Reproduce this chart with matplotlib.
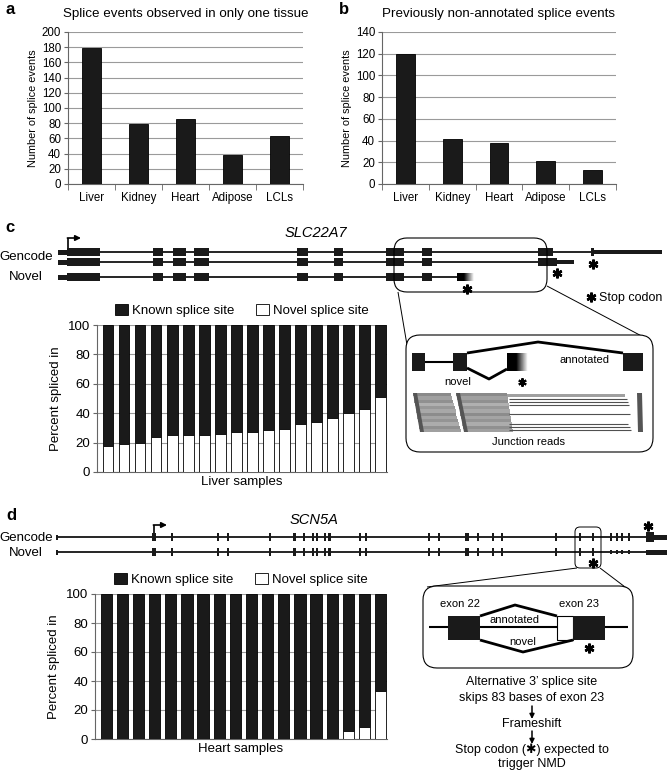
import numpy as np
import matplotlib
matplotlib.use("Agg")
import matplotlib.pyplot as plt
from matplotlib.patches import Rectangle, FancyBboxPatch, Polygon

plt.rcParams['font.family'] = ['Liberation Sans', 'DejaVu Sans']

# ---------------- data ----------------
tissues = ['Liver', 'Kidney', 'Heart', 'Adipose', 'LCLs']
tissue_specific = [179, 79, 86, 38, 63]
non_annotated = [120, 41, 38, 21, 13]
liver_novel = [17.5, 19, 20, 23.5, 25, 25.5, 25.5, 26, 27, 27.5, 28.5, 29, 32.5, 34, 37, 40, 43, 51]
heart_novel = [0, 0, 0, 0, 0, 0, 0, 0, 0, 0, 0, 0, 0, 0, 0, 5.5, 8, 33]

# gene structures (pixel positions along the diagram)
slc_exons = [(67, 100), (153, 163), (173, 186), (194, 209), (297, 308), (334, 343), (386, 404), (422, 432)]
scn_exons = [(152, 156), (171, 173), (217, 219), (227, 229), (269, 271), (293, 296), (303, 305), (312, 314),
             (316, 318), (324, 326), (328, 331), (359, 361), (365, 367), (428, 430), (438, 440), (465, 469),
             (477, 479), (492, 494), (501, 503), (555, 557), (579, 581), (592, 594)]
scn_small = [(610, 612), (616, 618), (621, 623), (628, 630)]

W, H = 668, 774
fig = plt.figure(figsize=(W / 100, H / 100), dpi=100)

DARK = '#1a1a1a'
GRID = '#9a9a9a'
SPINE = '#666666'


def add_ax(l, t, r, b):
    return fig.add_axes([l / W, 1 - b / H, (r - l) / W, (b - t) / H])


# ---------------- overlay for diagrams ----------------
ov = fig.add_axes([0, 0, 1, 1], zorder=0)
ov.set_facecolor('none')


def exon(x0, x1, yc, h, fc=DARK, ec='none', lw=0):
    ov.add_patch(Rectangle((x0, yc - h / 2), x1 - x0, h, fc=fc, ec=ec, lw=lw, zorder=3))


def line(xs, ys, lw=1.2, color='black', z=2):
    ov.plot(xs, ys, color=color, lw=lw, solid_capstyle='butt', zorder=z)


def star(x, y, s=7, lw=1.8):
    ov.plot([x], [y], marker=(6, 2, 0), ms=s, mew=lw, color='black', zorder=5)


# ---------------- panel a / b ----------------
def simple_bar(ax, vals, ymax, step, title):
    x = np.arange(len(vals))
    ax.bar(x, vals, width=0.4, color=DARK, edgecolor='black', lw=0.6, zorder=3)
    ax.set_xlim(-0.5, len(vals) - 0.5)
    ax.set_ylim(0, ymax)
    ax.set_yticks(np.arange(0, ymax + 1, step))
    ax.yaxis.grid(True, color=GRID, lw=0.8, zorder=0)
    ax.set_axisbelow(True)
    ax.set_xticks(x)
    ax.set_xticklabels(tissues)
    ax.set_xticks(np.arange(-0.5, len(vals), 1), minor=True)
    ax.tick_params(axis='x', which='major', length=0, labelsize=8.3, pad=6)
    ax.tick_params(axis='x', which='minor', length=4, color=SPINE, direction='out')
    ax.tick_params(axis='y', length=3, color=SPINE, labelsize=8.3, pad=2)
    for s in ['top', 'right']:
        ax.spines[s].set_visible(False)
    for s in ['left', 'bottom']:
        ax.spines[s].set_color(SPINE)
        ax.spines[s].set_linewidth(0.8)
    ax.set_ylabel('Number of splice events', fontsize=7.8, labelpad=3)
    ax.set_title(title, fontsize=9.6, pad=11)


ax_a = add_ax(68, 32, 303, 184)
simple_bar(ax_a, tissue_specific, 200, 20, 'Splice events observed in only one tissue')
ax_b = add_ax(382, 32, 616, 184)
simple_bar(ax_b, non_annotated, 140, 20, 'Previously non-annotated splice events')


# ---------------- panel c / d stacked bars ----------------
def stacked(ax, novel, xlabel, width):
    x = np.arange(len(novel))
    novel = np.array(novel, dtype=float)
    ax.bar(x, 100 - novel, bottom=novel, width=width, color=DARK, edgecolor='black', lw=0.6,
           zorder=3, label='Known splice site')
    ax.bar(x, novel, width=width, color='white', edgecolor='black', lw=0.6, zorder=3,
           label='Novel splice site')
    ax.set_xlim(-0.7, len(novel) - 0.6)
    ax.set_ylim(0, 100)
    ax.set_yticks(np.arange(0, 101, 20))
    ax.yaxis.grid(True, color=GRID, lw=0.8, zorder=0)
    ax.set_axisbelow(True)
    ax.set_xticks([])
    ax.tick_params(axis='y', length=3, color=SPINE, labelsize=9.5, pad=2)
    for s in ['top', 'right']:
        ax.spines[s].set_visible(False)
    for s in ['left', 'bottom']:
        ax.spines[s].set_color(SPINE)
        ax.spines[s].set_linewidth(0.8)
    ax.set_ylabel('Percent spliced in', fontsize=9.5, labelpad=4)
    ax.set_xlabel(xlabel, fontsize=9.5, labelpad=3)
    ax.legend(loc='lower center', bbox_to_anchor=(0.5, 1.0), ncol=2, frameon=False, fontsize=9.5,
              handlelength=1.0, handleheight=1.0, handletextpad=0.3, columnspacing=1.6,
              borderaxespad=0.2)


ax_c = add_ax(97, 325, 387, 472)
stacked(ax_c, liver_novel, 'Liver samples', 0.65)
ax_d = add_ax(95, 594, 387, 739)
stacked(ax_d, heart_novel, 'Heart samples', 0.7)

# ---------------- panel labels ----------------
for lab, (x, y) in {'a': (5, 9), 'b': (339, 9), 'c': (5, 227), 'd': (6, 515)}.items():
    ov.text(x, y, lab, fontsize=12, fontweight='bold', ha='left', va='center')

# ---------------- panel c gene diagram ----------------
yc1, yc2, yc3 = 252, 262, 277
ov.text(316, 233, 'SLC22A7', fontsize=10.5, style='italic', ha='center', va='center')
ov.text(53, 257, 'Gencode', fontsize=9.5, ha='right', va='center')
ov.text(43, 277, 'Novel', fontsize=9.5, ha='right', va='center')
EH = 8
# transcript 1
line([58, 593], [yc1, yc1])
exon(58, 67, yc1, 5)
for a, b in slc_exons:
    exon(a, b, yc1, EH)
exon(538, 553, yc1, EH)
exon(591, 594, yc1, EH)
exon(594, 662, yc1, 4.5)
# transcript 2
line([58, 557], [yc2, yc2])
exon(58, 67, yc2, 5)
for a, b in slc_exons:
    exon(a, b, yc2, EH)
exon(538, 557, yc2, EH)
exon(557, 574, yc2, 4.5)
# novel transcript
line([58, 458], [yc3, yc3])
exon(58, 67, yc3, 5)
for a, b in slc_exons:
    exon(a, b, yc3, EH)
grad = np.concatenate([np.zeros(20), np.linspace(0, 1, 30)])[None, :]
ov.imshow(grad, cmap='gray', vmin=0, vmax=1, extent=[457, 474, yc3 + EH / 2, yc3 - EH / 2],
          aspect='auto', zorder=3, interpolation='bilinear')
# TSS arrow
line([68, 68], [yc1, 238], lw=1.2)
ov.annotate('', xy=(81, 238), xytext=(67.4, 238),
            arrowprops=dict(arrowstyle='-|>', lw=1.2, color='black', mutation_scale=8,
                            shrinkA=0, shrinkB=0), zorder=4)
star(593, 264)
star(557, 273)
star(467, 289)
ov.add_patch(FancyBboxPatch((394, 238), 153, 54, boxstyle='round,pad=0,rounding_size=13',
                            fc='none', ec='black', lw=0.8, zorder=4))
star(591, 297)
ov.text(599, 298, 'Stop codon', fontsize=9, ha='left', va='center')
line([398, 407], [292, 345], lw=0.7)
line([547, 651], [286, 341], lw=0.7)

# ---------------- panel c inset ----------------
ov.add_patch(FancyBboxPatch((406, 335), 247, 117, boxstyle='round,pad=0,rounding_size=14',
                            fc='white', ec='black', lw=0.8, zorder=2))
exon(412, 425, 362, 18)
line([425, 453], [362, 362], lw=1.5, z=3)
exon(453, 467, 362, 18)
ov.imshow(np.concatenate([np.zeros(15), np.linspace(0, 1, 20)])[None, :], cmap='gray', vmin=0, vmax=1,
          extent=[507, 528, 371, 353], aspect='auto', zorder=3, interpolation='bilinear')
exon(623, 643, 362, 18)
line([467, 538, 623], [353, 342, 353], lw=2, z=3)
line([467, 489, 507], [368, 379, 369], lw=2, z=3)
ov.text(458, 382, 'novel', fontsize=8, ha='center', va='center')
star(522, 382, s=6, lw=1.5)
ov.text(585, 360, 'annotated', fontsize=8, ha='center', va='center')
# junction reads (stacked read blocks)
read_grays = ['#8a8a8a', '#a0a0a0', '#909090', '#b0b0b0', '#989898', '#a8a8a8', '#8c8c8c',
              '#a4a4a4', '#949494', '#acacac', '#909090', '#a0a0a0']
ry0, ry1 = 393, 432
n = len(read_grays)
for i, g in enumerate(read_grays):
    t = ry0 + i * (ry1 - ry0) / n
    bt = t + (ry1 - ry0) / n
    fr = (i + 0.5) / n
    ov.add_patch(Polygon([(413 + 7 * fr, t), (451 + 10 * fr, t), (451 + 10 * fr, bt), (413 + 7 * fr, bt)],
                         closed=True, fc=g, ec='none', zorder=3))
    ov.add_patch(Polygon([(456 + 8 * fr, t), (507 + 6 * fr, t), (507 + 6 * fr, bt), (456 + 8 * fr, bt)],
                         closed=True, fc=g, ec='none', zorder=3))
ov.add_patch(Polygon([(413, ry0), (417, ry0), (424, ry1), (420, ry1)], closed=True, fc='#555555',
                     ec='none', zorder=4))
ov.add_patch(Polygon([(456, ry0), (460, ry0), (468, ry1), (464, ry1)], closed=True, fc='#555555',
                     ec='none', zorder=4))
ov.add_patch(Rectangle((507, 394), 118, 3, fc='#a0a0a0', ec='none', zorder=3))
for yy, xe in [(399, 627), (402, 628), (405, 629), (414, 630), (424, 628), (427, 630), (430, 631)]:
    line([509, xe], [yy, yy], lw=0.8, color='#505050', z=3)
ov.add_patch(Polygon([(637, ry0), (642, ry0), (643, ry1), (638, ry1)], closed=True, fc='#555555',
                     ec='none', zorder=3))
ov.text(528, 442, 'Junction reads', fontsize=8, ha='center', va='center')

# ---------------- panel d gene diagram ----------------
yd1, yd2 = 537, 552
ov.text(314, 520, 'SCN5A', fontsize=10.5, style='italic', ha='center', va='center')
ov.text(53, 538, 'Gencode', fontsize=9.5, ha='right', va='center')
ov.text(43, 553, 'Novel', fontsize=9.5, ha='right', va='center')
for yc in (yd1, yd2):
    line([57, 648], [yc, yc])
    exon(56, 58, yc, 5)
    for a, b in scn_exons:
        exon(a, b, yc, 8)
for a, b in scn_small:
    exon(a, b, yd1, 8)
    exon(a, b, yd2, 4)
exon(646, 654, yd1, 10)
exon(654, 667, yd1, 5)
exon(646, 667, yd2, 5)
line([154, 154], [yd1, 525], lw=1.2)
ov.annotate('', xy=(167, 525), xytext=(153.4, 525),
            arrowprops=dict(arrowstyle='-|>', lw=1.2, color='black', mutation_scale=8,
                            shrinkA=0, shrinkB=0), zorder=4)
star(648, 526)
star(593, 563)
ov.add_patch(FancyBboxPatch((575, 527), 26, 41, boxstyle='round,pad=0,rounding_size=5',
                            fc='none', ec='black', lw=0.7, zorder=4))
line([577, 427], [568, 587], lw=0.7)
line([600, 629], [568, 590], lw=0.7)

# ---------------- panel d inset ----------------
ov.add_patch(FancyBboxPatch((423, 586), 210, 82, boxstyle='round,pad=0,rounding_size=14',
                            fc='white', ec='black', lw=0.8, zorder=2))
line([429, 628], [627, 627], lw=1.5, z=3)
exon(448, 480, 628, 24)
exon(557, 573, 628, 24, fc='white', ec='black', lw=0.8)
exon(573, 605, 628, 24)
line([480, 515, 557], [616, 605, 616], lw=2, z=4)
line([480, 523, 573], [640, 652, 640], lw=2, z=4)
ov.text(460, 604, 'exon 22', fontsize=8, ha='center', va='center')
ov.text(579, 604, 'exon 23', fontsize=8, ha='center', va='center')
ov.text(515, 620, 'annotated', fontsize=8, ha='center', va='center')
ov.text(523, 642, 'novel', fontsize=8, ha='center', va='center')
star(589, 648)

tx = 532
ov.text(tx, 682, 'Alternative 3\u2019 splice site', fontsize=9, ha='center', va='center')
ov.text(tx, 698, 'skips 83 bases of exon 23', fontsize=9, ha='center', va='center')
ov.annotate('', xy=(tx, 719), xytext=(tx, 706),
            arrowprops=dict(arrowstyle='-|>', lw=1.1, color='black', mutation_scale=7,
                            shrinkA=0, shrinkB=0))
ov.text(tx, 724, 'Frameshift', fontsize=9, ha='center', va='center')
ov.annotate('', xy=(tx, 744), xytext=(tx, 731),
            arrowprops=dict(arrowstyle='-|>', lw=1.1, color='black', mutation_scale=7,
                            shrinkA=0, shrinkB=0))
ov.text(tx, 750, 'Stop codon (\u2731) expected to', fontsize=9, ha='center', va='center')
ov.text(tx, 764, 'trigger NMD', fontsize=9, ha='center', va='center')

ov.set_xlim(0, W)
ov.set_ylim(H, 0)
ov.axis('off')

fig.savefig('out.png', dpi=100)
